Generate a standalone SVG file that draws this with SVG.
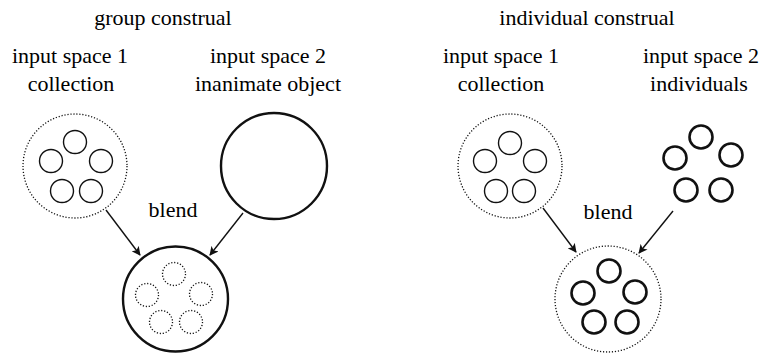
<svg xmlns="http://www.w3.org/2000/svg" width="762" height="353" viewBox="0 0 762 353">
<defs>
<marker id="ah" viewBox="0 0 10 10" refX="9" refY="5" markerWidth="9" markerHeight="9" markerUnits="userSpaceOnUse" orient="auto">
<path d="M0,0 L10,5 L0,10 L2.5,5 Z" fill="#111"/>
</marker>
</defs>
<rect width="762" height="353" fill="#fff"/>
<g id="titles">
<text x="163" y="25" style="font-family:'Liberation Serif','Times New Roman',serif;font-size:22px" text-anchor="middle">group construal</text>
<text x="587" y="25" style="font-family:'Liberation Serif','Times New Roman',serif;font-size:22px" text-anchor="middle">individual construal</text>
</g>
<g id="g-input1">
<text x="70" y="63" style="font-family:'Liberation Serif','Times New Roman',serif;font-size:22px" text-anchor="middle">input space 1</text>
<text x="71" y="91" style="font-family:'Liberation Serif','Times New Roman',serif;font-size:22px" text-anchor="middle">collection</text>
<circle cx="75" cy="166" r="52" fill="none" stroke="#111" stroke-width="1.3" stroke-dasharray="1.2 1.8"/>
<g fill="none" stroke="#111" stroke-width="1.4">
<circle cx="75" cy="142" r="11.5"/>
<circle cx="51" cy="161" r="11.5"/>
<circle cx="101" cy="161" r="11.5"/>
<circle cx="62" cy="191" r="11.5"/>
<circle cx="91" cy="191" r="11.5"/>
</g>
</g>
<g id="g-input2">
<text x="268" y="63" style="font-family:'Liberation Serif','Times New Roman',serif;font-size:22px" text-anchor="middle">input space 2</text>
<text x="268" y="91" style="font-family:'Liberation Serif','Times New Roman',serif;font-size:22px" text-anchor="middle">inanimate object</text>
<circle cx="274" cy="166" r="53" fill="none" stroke="#111" stroke-width="2.4"/>
</g>
<g id="g-blend">
<text x="173" y="217" style="font-family:'Liberation Serif','Times New Roman',serif;font-size:22px" text-anchor="middle">blend</text>
<circle cx="175.5" cy="299" r="52.5" fill="none" stroke="#111" stroke-width="2.4"/>
<g fill="none" stroke="#111" stroke-width="1.3" stroke-dasharray="1.2 1.8">
<circle cx="174" cy="274" r="11.5"/>
<circle cx="147" cy="295" r="11.5"/>
<circle cx="201" cy="294" r="11.5"/>
<circle cx="161" cy="322" r="11.5"/>
<circle cx="191" cy="322" r="11.5"/>
</g>
</g>
<g id="i-input1">
<text x="501" y="63" style="font-family:'Liberation Serif','Times New Roman',serif;font-size:22px" text-anchor="middle">input space 1</text>
<text x="501" y="91" style="font-family:'Liberation Serif','Times New Roman',serif;font-size:22px" text-anchor="middle">collection</text>
<circle cx="510" cy="166" r="52" fill="none" stroke="#111" stroke-width="1.3" stroke-dasharray="1.2 1.8"/>
<g fill="none" stroke="#111" stroke-width="1.4">
<circle cx="510" cy="143" r="11.5"/>
<circle cx="485" cy="161" r="11.5"/>
<circle cx="535" cy="161" r="11.5"/>
<circle cx="496" cy="191" r="11.5"/>
<circle cx="524" cy="191" r="11.5"/>
</g>
</g>
<g id="i-input2">
<text x="701" y="63" style="font-family:'Liberation Serif','Times New Roman',serif;font-size:22px" text-anchor="middle">input space 2</text>
<text x="699" y="91" style="font-family:'Liberation Serif','Times New Roman',serif;font-size:22px" text-anchor="middle">individuals</text>
<g fill="none" stroke="#111" stroke-width="2.6">
<circle cx="701" cy="137" r="11.5"/>
<circle cx="675" cy="158" r="11.5"/>
<circle cx="731" cy="155" r="11.5"/>
<circle cx="686" cy="190" r="11.5"/>
<circle cx="721" cy="190" r="11.5"/>
</g>
</g>
<g id="i-blend">
<text x="608" y="219" style="font-family:'Liberation Serif','Times New Roman',serif;font-size:22px" text-anchor="middle">blend</text>
<circle cx="608" cy="299" r="53" fill="none" stroke="#111" stroke-width="1.3" stroke-dasharray="1.2 1.8"/>
<g fill="none" stroke="#111" stroke-width="2.6">
<circle cx="609" cy="271" r="11.5"/>
<circle cx="583" cy="293" r="11.5"/>
<circle cx="635" cy="292" r="11.5"/>
<circle cx="594" cy="322" r="11.5"/>
<circle cx="627" cy="322" r="11.5"/>
</g>
</g>
<g id="connectors" stroke="#111" stroke-width="1.4" fill="none" marker-end="url(#ah)">
<line x1="106" y1="210" x2="140" y2="255"/>
<line x1="243" y1="213" x2="210" y2="255"/>
<line x1="543" y1="208" x2="576" y2="252"/>
<line x1="673" y1="211" x2="639" y2="253"/>
</g>
</svg>
